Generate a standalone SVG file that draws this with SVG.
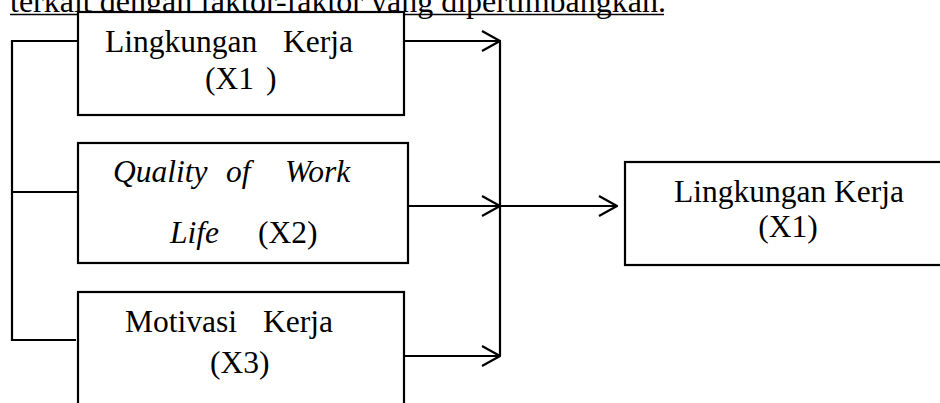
<svg xmlns="http://www.w3.org/2000/svg" width="940" height="403" viewBox="0 0 940 403">
<style>
text{font-family:'Liberation Serif','Tinos','DejaVu Serif',serif;font-size:31.5px;fill:#000}
.it{font-style:italic}
.box{fill:#fff;stroke:#000;stroke-width:2.2}
.ln{fill:none;stroke:#000;stroke-width:2.2}
</style>
<defs>
<marker id="ah" viewBox="0 0 20 22" refX="19" refY="11" markerWidth="20" markerHeight="22" markerUnits="userSpaceOnUse" orient="auto">
<path d="M1,1 L19,11 L1,21" fill="none" stroke="#000" stroke-width="2.2"/>
</marker>
</defs>
<rect width="940" height="403" fill="#fff"/>
<text x="10" y="12" font-family="Liberation Serif" style="font-size:32px">terkait dengan faktor-faktor yang dipertimbangkan.</text>
<line x1="10" y1="14.5" x2="664" y2="14.5" stroke="#000" stroke-width="1.5"/>
<g id="connectors">
<path class="ln" d="M78,41 H12 V340 H76"/>
<path class="ln" d="M12,192 H78"/>
<path class="ln" d="M404,41 H500" marker-end="url(#ah)"/>
<path class="ln" d="M403,206 H500" marker-end="url(#ah)"/>
<path class="ln" d="M404,356 H500" marker-end="url(#ah)"/>
<path class="ln" d="M500,41 V356"/>
<path class="ln" d="M500,206 H617" marker-end="url(#ah)"/>
</g>
<g id="n1" font-family="Liberation Serif">
<rect class="box" x="78" y="12" width="326" height="103"/>
<text y="52"><tspan x="105">Lingkungan</tspan><tspan x="283">Kerja</tspan></text>
<text y="89"><tspan x="205">(X1</tspan><tspan x="266">)</tspan></text>
</g>
<g id="n2" font-family="Liberation Serif">
<rect class="box" x="78" y="143" width="330" height="120"/>
<text y="182" class="it"><tspan x="113">Quality</tspan><tspan x="226">of</tspan><tspan x="285">Work</tspan></text>
<text y="243"><tspan x="170" class="it">Life</tspan><tspan x="258">(X2)</tspan></text>
</g>
<g id="n3" font-family="Liberation Serif">
<rect class="box" x="78" y="292" width="326" height="130"/>
<text y="332"><tspan x="125">Motivasi</tspan><tspan x="263">Kerja</tspan></text>
<text y="373" x="210">(X3)</text>
</g>
<g id="n4" font-family="Liberation Serif">
<rect class="box" x="625" y="162" width="330" height="103"/>
<text y="202" x="789" text-anchor="middle">Lingkungan Kerja</text>
<text y="237" x="788" text-anchor="middle">(X1)</text>
</g>
</svg>
